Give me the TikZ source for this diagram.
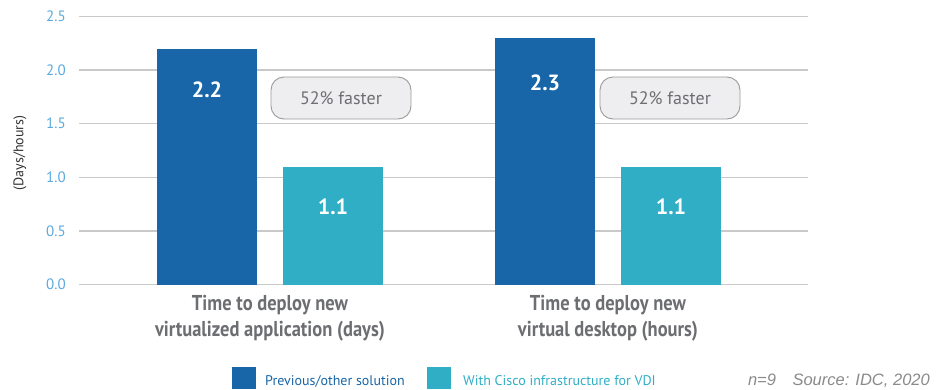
\documentclass[tikz,border=0pt]{standalone}
\usepackage{fontspec}
\setmainfont{PT Sans}
\newfontfamily\condfont[FakeStretch=0.86]{PT Sans}
\newfontfamily\srcfont{Liberation Sans}
\definecolor{darkbar}{HTML}{1866A7}
\definecolor{tealbar}{HTML}{30AEC6}
\definecolor{gridgray}{HTML}{C9C9C9}
\definecolor{ticklbl}{HTML}{5BA9DD}
\definecolor{txtgray}{HTML}{6D6E71}
\definecolor{bubfill}{HTML}{EEEEF0}
\definecolor{bubdraw}{HTML}{9A9A9A}
\definecolor{srcgray}{HTML}{8A8A8A}
\tikzset{
  gridline/.style={draw=gridgray, line width=1.4pt},
  ticklabel/.style={anchor=east, text=ticklbl, font=\fontsize{15}{15}\selectfont, inner sep=0pt},
  valuelbl/.style={text=white, font=\fontsize{22}{22}\selectfont\bfseries, inner sep=0pt},
  bubble/.style={draw=bubdraw, fill=bubfill, line width=0.9pt, rounded corners=13pt,
    minimum width=140pt, minimum height=42pt, text=txtgray, font=\fontsize{18}{18}\selectfont},
  catlbl/.style={align=center, text=txtgray, font=\condfont\bfseries\fontsize{21.5}{26}\selectfont, inner sep=0pt},
  legtext/.style={anchor=base west, font=\fontsize{14}{14}\selectfont, inner sep=0pt},
}
\begin{document}
\begin{tikzpicture}[x=1pt,y=-1pt]
\useasboundingbox (0,0) rectangle (946,389);
% grid and ticks
\foreach \v/\l in {0/0.0,0.5/0.5,1/1.0,1.5/1.5,2/2.0,2.5/2.5}{
  \draw[gridline] (79,{284.5-\v*107.2}) -- (808,{284.5-\v*107.2});
  \node[ticklabel] (t\l) at (66,{284.5-\v*107.2}) {\l};
}
\node[rotate=90, text=black!80, font=\fontsize{14}{14}\selectfont] (ylab) at (20,153) {(Days/hours)};
% bars
\fill[darkbar] (157,284.5) rectangle (257,{284.5-2.2*107.2});
\fill[tealbar] (283,284.5) rectangle (383,{284.5-1.1*107.2});
\fill[darkbar] (495,284.5) rectangle (595,{284.5-2.3*107.2});
\fill[tealbar] (621,284.5) rectangle (721,{284.5-1.1*107.2});
\node[valuelbl] (v1) at (207,90) {2.2};
\node[valuelbl] (v2) at (333,207) {1.1};
\node[valuelbl] (v3) at (545,83) {2.3};
\node[valuelbl] (v4) at (671,207) {1.1};
% bubbles
\node[bubble] (b1) at (341,98) {52\% faster};
\node[bubble] (b2) at (670,98) {52\% faster};
% categories
\node[catlbl] (c1) at (270,318) {Time to deploy new\\virtualized application (days)};
\node[catlbl] (c2) at (608,318) {Time to deploy new\\virtual desktop (hours)};
% legend
\fill[darkbar] (232,367) rectangle (256,389);
\node[legtext, text=darkbar] (l1) at (265,385) {Previous/other solution};
\fill[tealbar] (427,367) rectangle (451,389);
\node[legtext, text=tealbar] (l2) at (463,385) {With Cisco infrastructure for VDI};
% source
\node[anchor=base east, text=srcgray, font=\srcfont\itshape\fontsize{16.5}{16.5}\selectfont, inner sep=0pt] (src) at (930,385) {n=9\hspace{1em}Source: IDC, 2020};
\end{tikzpicture}
\end{document}
